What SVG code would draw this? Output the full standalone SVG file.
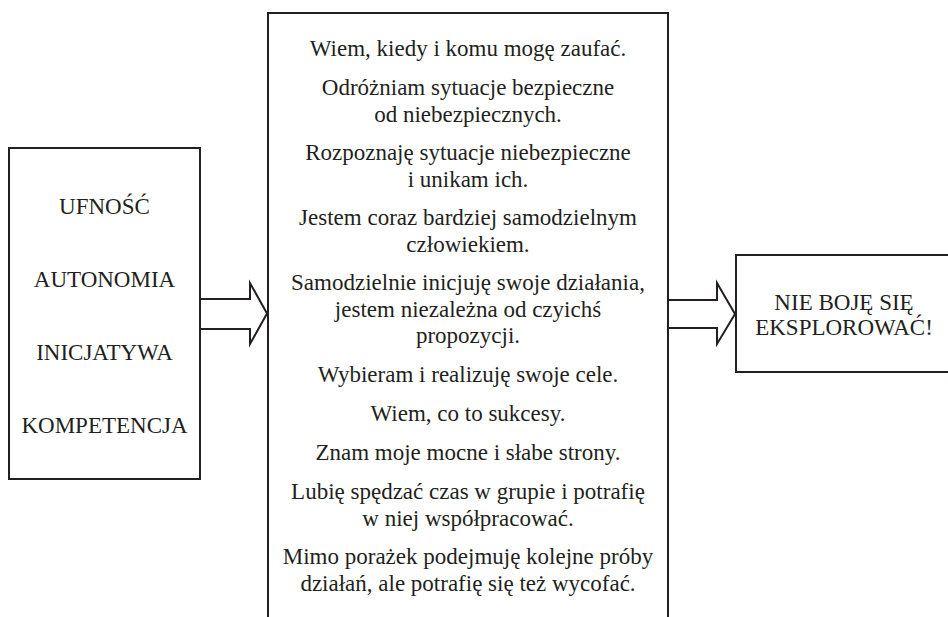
<svg xmlns="http://www.w3.org/2000/svg" width="948" height="617" viewBox="0 0 948 617">
<style>
.box{fill:#fff;stroke:#231f20;stroke-width:2}
.arr{fill:#fff;stroke:#231f20;stroke-width:2;stroke-linejoin:miter}
.t{font-family:'Liberation Serif','Times New Roman',Tinos,'DejaVu Serif',serif;font-size:23px;fill:#231f20;text-anchor:middle}
</style>
<rect width="948" height="617" fill="#fff"/>
<g id="left">
<rect class="box" x="9" y="148" width="191" height="331"/>
<g class="t" font-family="Liberation Serif, serif">
<text x="104.5" y="214">UFNOŚĆ</text>
<text x="104.5" y="287">AUTONOMIA</text>
<text x="104.5" y="360">INICJATYWA</text>
<text x="104.5" y="433">KOMPETENCJA</text>
</g>
</g>
<g id="middle">
<path class="box" d="M268,630 V13 H668 V630"/>
<g class="t" font-family="Liberation Serif, serif">
<text x="468" y="56">Wiem, kiedy i komu mogę zaufać.</text>
<text x="468" y="95">Odróżniam sytuacje bezpieczne</text>
<text x="468" y="121.5">od niebezpiecznych.</text>
<text x="468" y="160">Rozpoznaję sytuacje niebezpieczne</text>
<text x="468" y="186.5">i unikam ich.</text>
<text x="468" y="225">Jestem coraz bardziej samodzielnym</text>
<text x="468" y="251.5">człowiekiem.</text>
<text x="468" y="290">Samodzielnie inicjuję swoje działania,</text>
<text x="468" y="316.5">jestem niezależna od czyichś</text>
<text x="468" y="343">propozycji.</text>
<text x="468" y="382">Wybieram i realizuję swoje cele.</text>
<text x="468" y="421">Wiem, co to sukcesy.</text>
<text x="468" y="460">Znam moje mocne i słabe strony.</text>
<text x="468" y="499">Lubię spędzać czas w grupie i potrafię</text>
<text x="468" y="525.5">w niej współpracować.</text>
<text x="468" y="564">Mimo porażek podejmuję kolejne próby</text>
<text x="468" y="590.5">działań, ale potrafię się też wycofać.</text>
</g>
</g>
<g id="right">
<rect class="box" x="736" y="255" width="216" height="117"/>
<g class="t" font-family="Liberation Serif, serif">
<text x="844" y="310">NIE BOJĘ SIĘ</text>
<text x="844" y="335">EKSPLOROWAĆ!</text>
</g>
</g>
<g id="connectors">
<polygon class="arr" points="200,299 250,299 250,283 267,313.5 250,344 250,329 200,329"/>
<polygon class="arr" points="668,300 717,300 717,283 735,314 717,344 717,328 668,328"/>
</g>
</svg>
